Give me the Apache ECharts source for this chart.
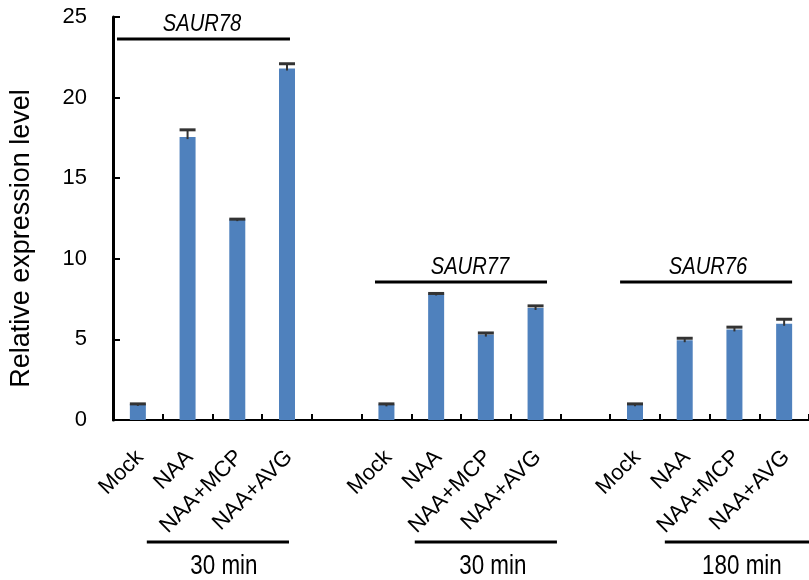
<!DOCTYPE html>
<html><head><meta charset="utf-8">
<script src="https://cdn.jsdelivr.net/npm/echarts@6/dist/echarts.min.js"></script>
<style>html,body{margin:0;padding:0;background:#fff}#c{width:809px;height:580px}</style>
</head><body><div id="c"></div>
<script>
// ---- data ----
const categories = ['Mock','NAA','NAA+MCP','NAA+AVG','','Mock','NAA','NAA+MCP','NAA+AVG','','Mock','NAA','NAA+MCP','NAA+AVG'];
const values = [1.0, 17.55, 12.46, 21.8, null, 0.97, 7.85, 5.3, 6.95, null, 0.97, 4.95, 5.62, 5.97];
const errors = [0.0, 0.45, 0.0, 0.3, null, 0.03, 0.0, 0.1, 0.13, null, 0.03, 0.12, 0.14, 0.28];
const geneNames = ['SAUR78','SAUR77','SAUR76'];
const timeLabels = ['30 min','30 min','180 min'];
const yMin = 0, yMax = 25, yStep = 5;
const yTitle = 'Relative expression level';

// ---- annotation layout (category-index units / data units) ----
const geneLayout = [
  {x0:-0.42, x1:3.06, tx:1.29, y:23.63},
  {x0:4.77, x1:8.23, tx:6.68, y:8.56},
  {x0:9.70, x1:13.16, tx:11.47, y:8.56}
];
const timeLayout = [
  {x0:0.18, x1:3.04, tx:1.73},
  {x0:5.57, x1:8.43, tx:7.14},
  {x0:10.6, x1:13.8, tx:12.15}
];

const chart = echarts.init(document.getElementById('c'), null, {renderer:'canvas'});
const FONT = "'Liberation Sans', Arial, sans-serif";

chart.setOption({
  animation:false,
  backgroundColor:'#fff',
  grid:{left:113, right:-8, top:17, bottom:160, containLabel:false},
  xAxis:[{
    type:'category', data:categories, boundaryGap:true,
    axisLine:{show:true, onZero:false, lineStyle:{color:'#000', width:2}},
    axisTick:{show:true, inside:true, length:6, alignWithLabel:false, interval:0, lineStyle:{color:'#000', width:2}},
    axisLabel:{interval:0, rotate:45, fontSize:22, color:'#000', fontFamily:FONT, margin:36, padding:[0,-3,0,0]},
    splitLine:{show:false}
  },{
    type:'value', min:-0.5, max:categories.length-0.5, show:false,
    axisLine:{show:false, onZero:false}
  }],
  yAxis:{
    type:'value', min:yMin, max:yMax, interval:yStep,
    name:yTitle, nameLocation:'middle', nameGap:78,
    nameTextStyle:{fontSize:27, color:'#000', fontFamily:FONT, padding:[0,40,0,0]},
    axisLine:{show:true, onZero:false, lineStyle:{color:'#000', width:3}},
    axisTick:{show:true, inside:true, length:7, lineStyle:{color:'#000', width:2}},
    axisLabel:{fontSize:22, color:'#000', fontFamily:FONT, margin:26},
    splitLine:{show:false}
  },
  series:[
    {
      type:'bar', data:values, barWidth:16,
      itemStyle:{color:'#4F81BD'}, z:2
    },
    {
      type:'custom', z:3, clip:false,
      data:values.map((v,i)=> v==null ? [i, null, null] : [i, v, errors[i]]),
      renderItem:function(params, api){
        const i = api.value(0), v = api.value(1), e = api.value(2);
        if (v == null || isNaN(v)) return;
        const top = api.coord([i, v + e]);
        const base = api.coord([i, v]);
        const half = 8;
        return {type:'group', children:[
          {type:'line', shape:{x1:top[0], y1:top[1], x2:base[0], y2:base[1]+2}, style:{stroke:'#333', lineWidth:2}},
          {type:'line', shape:{x1:top[0]-half, y1:top[1], x2:top[0]+half, y2:top[1]}, style:{stroke:'#333', lineWidth:3}}
        ]};
      }
    },
    {
      type:'custom', z:4, clip:false, silent:true, xAxisIndex:1,
      data:geneNames.map((g,k)=>[k]),
      renderItem:function(params, api){
        const k = params.dataIndex;
        const gl = geneLayout[k], tl = timeLayout[k];
        const a = api.coord([gl.x0, gl.y]), b = api.coord([gl.x1, gl.y]);
        const t = api.coord([gl.tx, gl.y]);
        const zero = api.coord([0, 0])[1];
        const c = api.coord([tl.x0, 0]), d = api.coord([tl.x1, 0]);
        const tt = api.coord([tl.tx, 0]);
        return {type:'group', children:[
          {type:'line', shape:{x1:a[0], y1:a[1], x2:b[0], y2:b[1]}, style:{stroke:'#000', lineWidth:3}},
          {type:'text', x:t[0], y:t[1]-15, scaleX:0.84, style:{text:geneNames[k], fontSize:24, fontStyle:'italic', fontFamily:FONT, fill:'#000', align:'center', verticalAlign:'middle'}},
          {type:'line', shape:{x1:c[0], y1:zero+122, x2:d[0], y2:zero+122}, style:{stroke:'#000', lineWidth:3}},
          {type:'text', x:tt[0], y:zero+146, scaleX:0.8, style:{text:timeLabels[k], fontSize:28, fontFamily:FONT, fill:'#000', align:'center', verticalAlign:'middle'}}
        ]};
      }
    }
  ]
});
</script>
</body></html>
